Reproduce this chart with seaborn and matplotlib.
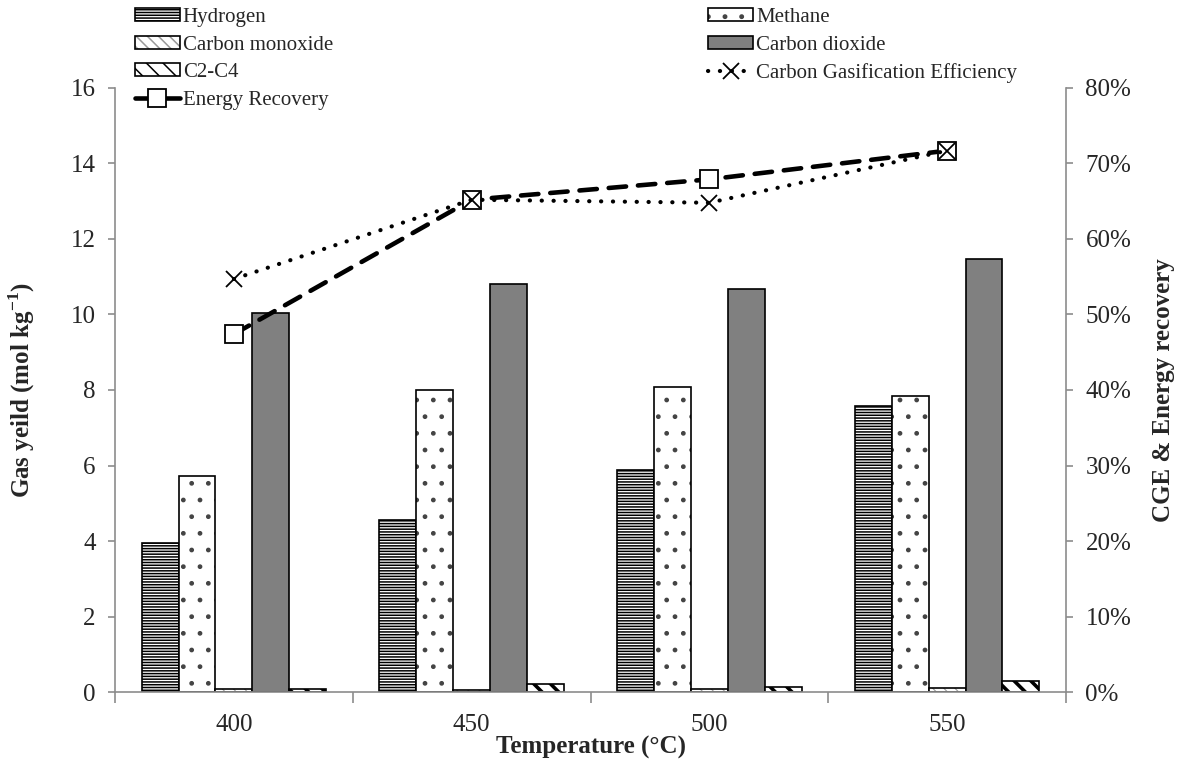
import numpy as np
import pandas as pd
import matplotlib
matplotlib.use("Agg")
import matplotlib.pyplot as plt
import seaborn as sns
from matplotlib.patches import Patch
from matplotlib.lines import Line2D
from matplotlib.ticker import PercentFormatter

# ---- data -------------------------------------------------------------
temperatures = ["400", "450", "500", "550"]
gases = ["Hydrogen", "Methane", "Carbon monoxide", "Carbon dioxide", "C2-C4"]

hydrogen = [3.95, 4.55, 5.88, 7.58]
methane = [5.72, 8.00, 8.07, 7.85]
carbon_monoxide = [0.08, 0.05, 0.08, 0.10]
carbon_dioxide = [10.04, 10.81, 10.68, 11.48]
c2_c4 = [0.08, 0.20, 0.13, 0.28]

cge = [0.547, 0.652, 0.648, 0.717]
energy_recovery = [0.474, 0.652, 0.679, 0.717]

yield_ticks = [0, 2, 4, 6, 8, 10, 12, 14, 16]
pct_ticks = [0.0, 0.1, 0.2, 0.3, 0.4, 0.5, 0.6, 0.7, 0.8]

# ---- styling ----------------------------------------------------------
sns.set_theme(style="white")
plt.rcParams["font.family"] = ["Liberation Serif", "DejaVu Serif"]
plt.rcParams["hatch.linewidth"] = 1.1
plt.rcParams["mathtext.fontset"] = "custom"
plt.rcParams["mathtext.rm"] = "Liberation Serif"
plt.rcParams["mathtext.bf"] = "Liberation Serif:bold"

GRAY = "#8c8c8c"
TICK_SIZE = 18
TITLE_SIZE = 18
face_colors = ["white", "white", "white", "#808080", "white"]
hatches = ["------", ".", "\\\\\\", "", "\\\\"]
hatch_colors = ["black", "#444444", "#9a9a9a", "black", "black"]
hatch_widths = [1.1, 1.0, 0.8, 1.1, 2.6]

series = {
    "Hydrogen": hydrogen,
    "Methane": methane,
    "Carbon monoxide": carbon_monoxide,
    "Carbon dioxide": carbon_dioxide,
    "C2-C4": c2_c4,
}
df = pd.DataFrame(
    [(t, g, v) for g in gases for t, v in zip(temperatures, series[g])],
    columns=["temperature", "gas", "value"],
)


def style_patch(p, hatch, hcolor, hwidth):
    p.set_hatch(hatch)
    p._hatch_color = matplotlib.colors.to_rgba(hcolor)
    if hasattr(p, "set_hatch_linewidth"):
        p.set_hatch_linewidth(hwidth)
    else:
        p._hatch_linewidth = hwidth


fig = plt.figure(figsize=(11.86, 7.65), dpi=100)
ax = fig.add_axes([0.097, 0.0954, 0.8018, 0.7896])

sns.barplot(
    data=df, x="temperature", y="value", hue="gas",
    order=temperatures, hue_order=gases,
    palette=dict(zip(gases, face_colors)), saturation=1,
    width=0.776, edgecolor="black", linewidth=1.2,
    legend=False, ax=ax,
)
for cont, h, hc, hw in zip(ax.containers, hatches, hatch_colors, hatch_widths):
    for bar in cont:
        style_patch(bar, h, hc, hw)

ax.set_ylim(0, 16)
ax.set_yticks(yield_ticks)
ax.set_ylabel("Gas yeild (mol kg$^{\\mathbf{-1}}$)", fontsize=TITLE_SIZE,
              fontweight="bold", labelpad=24)

# secondary axis: efficiencies
ax2 = ax.twinx()
x_pos = np.arange(len(temperatures))
ax2.plot(x_pos, energy_recovery, color="black", linewidth=3.3,
         linestyle=(0, (3.8, 2.6)), dash_capstyle="round",
         marker="s", markersize=13, markerfacecolor="white",
         markeredgecolor="black", markeredgewidth=1.3, zorder=3)
ax2.plot(x_pos, cge, color="black", linewidth=3.0,
         linestyle=(0, (0.05, 2.8)), dash_capstyle="round",
         marker="x", markersize=12, markeredgewidth=1.3, zorder=4)
ax2.set_ylim(0, 0.8)
ax2.set_yticks(pct_ticks)
ax2.yaxis.set_major_formatter(PercentFormatter(1.0, decimals=0))
ax2.set_ylabel("CGE & Energy recovery", fontsize=TITLE_SIZE,
               fontweight="bold", labelpad=15)

# category axis: ticks between groups, labels at group centres
ax.set_xlim(-0.5, len(temperatures) - 0.5)
ax.set_xticks(np.arange(len(temperatures) + 1) - 0.5)
ax.set_xticklabels([])
ax.set_xticks(x_pos, minor=True)
ax.set_xticklabels(temperatures, minor=True)
ax.tick_params(axis="x", which="major", direction="out", length=8,
               width=1.2, color=GRAY, bottom=True)
ax.tick_params(axis="x", which="minor", length=0, pad=16, labelsize=TICK_SIZE)
ax.set_xlabel("Temperature (°C)", fontsize=TITLE_SIZE, fontweight="bold",
              labelpad=0)

for a in (ax, ax2):
    a.tick_params(axis="y", direction="out", length=5, width=1.2,
                  color=GRAY, labelsize=TICK_SIZE, pad=9)
    for s in a.spines.values():
        s.set_color(GRAY)
        s.set_linewidth(1.2)
    a.spines["top"].set_visible(False)
ax.tick_params(axis="y", left=True)
ax2.tick_params(axis="y", right=True)
ax.spines["right"].set_visible(False)
ax2.spines["left"].set_visible(False)
ax2.spines["bottom"].set_visible(False)

# legend
handles = []
for g, fc, h, hc, hw in zip(gases, face_colors, hatches, hatch_colors, hatch_widths):
    p = Patch(facecolor=fc, edgecolor="black", linewidth=1.2, label=g)
    style_patch(p, h, hc, hw)
    handles.append(p)
er_handle = Line2D([], [], color="black", linewidth=3.3,
                   linestyle=(0, (3.8, 2.6)), dash_capstyle="round",
                   marker="s", markersize=13, markerfacecolor="white",
                   markeredgecolor="black", markeredgewidth=1.3,
                   label="Energy Recovery")
cge_handle = Line2D([], [], color="black", linewidth=3.0,
                    linestyle=(0, (0.05, 2.8)), dash_capstyle="round",
                    marker="x", markersize=12, markeredgewidth=1.3,
                    label="Carbon Gasification Efficiency")
order = [handles[0], handles[2], handles[4], er_handle,
         handles[1], handles[3], cge_handle]
fig.legend(handles=order, labels=[h.get_label() for h in order],
           loc="upper left", bbox_to_anchor=(0.110, 0.995), ncol=2,
           frameon=False, fontsize=15, handlelength=2.16, handleheight=0.6,
           handletextpad=0.15, labelspacing=0.41, columnspacing=18,
           borderaxespad=0, borderpad=0.2)

fig.savefig("out.png", dpi=100)
